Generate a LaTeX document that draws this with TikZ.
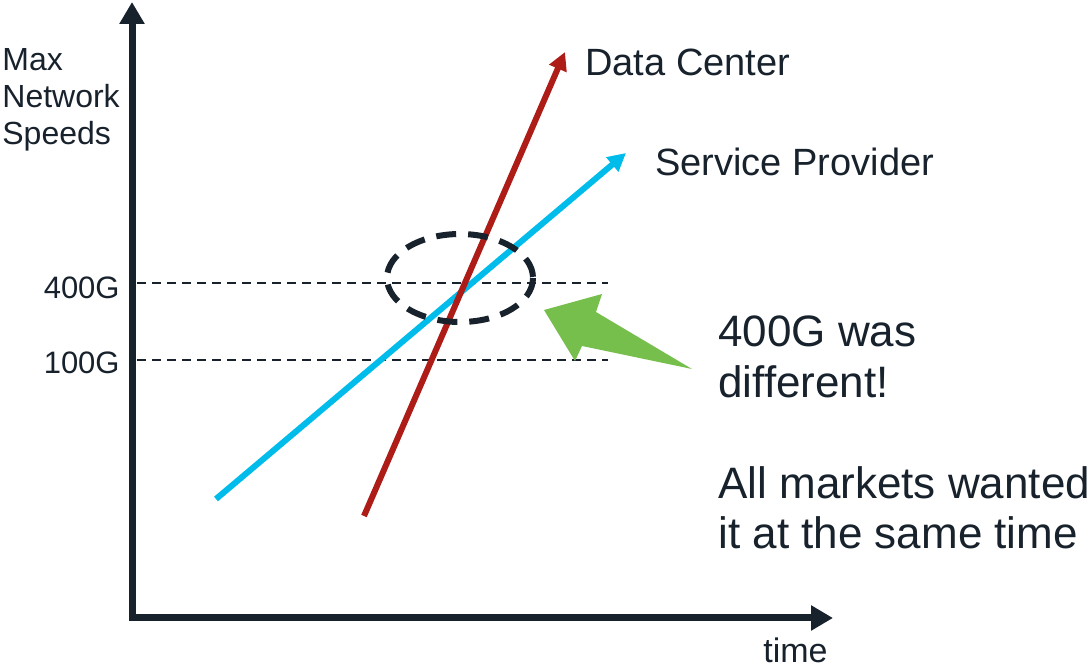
\documentclass[tikz,border=0pt]{standalone}
\usepackage{fontspec}
\setmainfont{Liberation Sans}
\usetikzlibrary{arrows.meta}

\definecolor{inkdark}{HTML}{18222C}
\definecolor{dcred}{HTML}{AE1C17}
\definecolor{spblue}{HTML}{00BCEB}
\definecolor{hintgreen}{HTML}{77BF4D}

\begin{document}
\begin{tikzpicture}[x=0.5pt,y=-0.5pt,
  axis/.style={line width=3.5pt,draw=inkdark,line join=miter,
    {Triangle[length=11pt,width=12pt]}-{Triangle[length=11pt,width=12pt]}},
  trend/.style={line width=3pt,-{Triangle[length=9pt,width=9pt]}},
  level/.style={line width=1pt,draw=inkdark,dash pattern=on 4.5pt off 3pt},
  lbl/.style={inner sep=0pt,text=inkdark}]
\useasboundingbox (0,0) rectangle (1089,668);

% axes
\coordinate (ytop) at (132,2);
\coordinate (xend) at (833,618);
\draw[axis] (ytop) |- (xend);
% base of a multi-line node sits on its last line
\node[lbl,anchor=base west,align=left,font=\fontsize{16}{18.5}\selectfont] (ylab) at (2,145) {Max\\Network\\Speeds};
\node[lbl,anchor=base west,font=\fontsize{17}{20}\selectfont] (xlab) at (763,663) {time};

% speed levels
\node[lbl,anchor=base east,font=\fontsize{15.5}{18}\selectfont] (g400) at (120,299) {400G};
\node[lbl,anchor=base east,font=\fontsize{15.5}{18}\selectfont] (g100) at (120,374) {100G};
\coordinate (l400a) at (137,283);
\coordinate (l400b) at (608,283);
\coordinate (l100a) at (137,360);
\coordinate (l100b) at (608,360);
\draw[level] (l400a) -- (l400b);
\draw[level] (l100a) -- (l100b);

% market trends
\coordinate (spstart) at (216,499);
\coordinate (spend) at (626,153);
\coordinate (dcstart) at (364,516);
\coordinate (dcend) at (565,52);
\draw[trend,spblue] (spstart) -- (spend);
\draw[trend,dcred] (dcstart) -- (dcend);
\node[lbl,anchor=base west,font=\fontsize{19}{22}\selectfont] (dclab) at (585,76) {Data Center};
\node[lbl,anchor=base west,font=\fontsize{19}{22}\selectfont] (splab) at (655,176) {Service Provider};

% crossing point
\draw[line width=3pt,inkdark,dash pattern=on 10pt off 6pt] (460,278) ellipse [x radius=73,y radius=44];
\fill[hintgreen] (544,310) -- (602,294) -- (596,312) -- (692,369) -- (582,346) -- (575,361) -- cycle;
\node[lbl,anchor=base west,align=left,font=\fontsize{22}{25.3}\selectfont] (note) at (718,549)
  {400G was\\different!\\[25.3pt]All markets wanted\\it at the same time};
\end{tikzpicture}
\end{document}
